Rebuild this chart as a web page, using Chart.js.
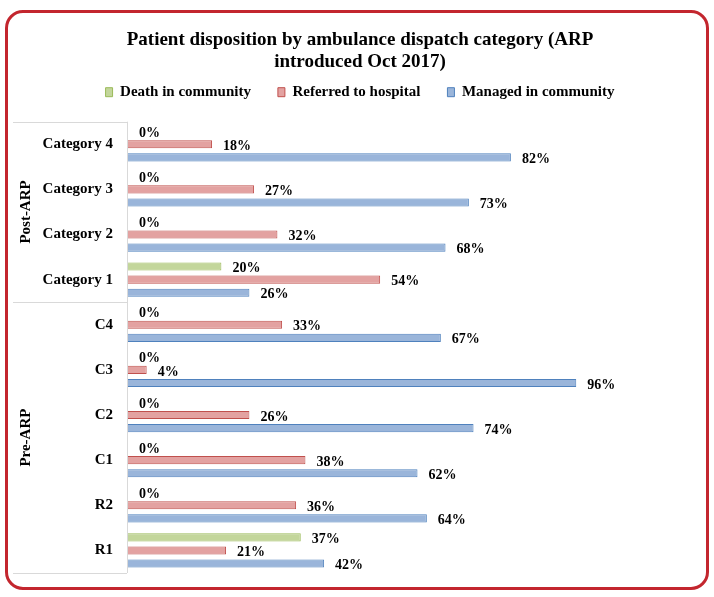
<!DOCTYPE html>
<html>
<head>
<meta charset="utf-8">
<script src="https://cdn.jsdelivr.net/npm/chart.js@4.4.1/dist/chart.umd.min.js"></script>
<style>
    html, body { margin: 0; padding: 0; background: #fff; }
    #wrap { position: relative; width: 714px; height: 597px; }
    #frame {
        position: absolute; left: 5px; top: 10px; width: 698px; height: 574px;
        border: 3px solid #c3262e; border-radius: 18px; pointer-events: none;
    }
    canvas { position: absolute; left: 0; top: 0; }
</style>
</head>
<body>
<div id="wrap">
    <canvas id="chart" width="714" height="597"></canvas>
    <div id="frame"></div>
</div>
<script>
const categories = ['Category 4', 'Category 3', 'Category 2', 'Category 1', 'C4', 'C3', 'C2', 'C1', 'R2', 'R1'];
const groups = [
    { label: 'Post-ARP', from: 0, to: 3 },
    { label: 'Pre-ARP', from: 4, to: 9 }
];
const deathInCommunity = [0, 0, 0, 20, 0, 0, 0, 0, 0, 37];
const referredToHospital = [18, 27, 32, 54, 33, 4, 26, 38, 36, 21];
const managedInCommunity = [82, 73, 68, 26, 67, 96, 74, 62, 64, 42];

const serif = "'Liberation Serif', 'DejaVu Serif', serif";

// value labels to the right of each bar
const barLabels = {
    id: 'barLabels',
    afterDatasetsDraw(chart) {
        const ctx = chart.ctx;
        ctx.save();
        ctx.font = 'bold 14px ' + serif;
        ctx.fillStyle = '#000';
        ctx.textAlign = 'left';
        ctx.textBaseline = 'middle';
        chart.data.datasets.forEach((ds, i) => {
            chart.getDatasetMeta(i).data.forEach((bar, j) => {
                ctx.fillText(ds.data[j] + '%', bar.x + 11, bar.y + 2);
            });
        });
        ctx.restore();
    }
};

// multi-level category boxes: group labels and divider lines
const groupAxis = {
    id: 'groupAxis',
    afterDraw(chart) {
        const ctx = chart.ctx;
        const y = chart.scales.y;
        const half = (y.getPixelForValue(1) - y.getPixelForValue(0)) / 2;
        const left = 13;
        const right = chart.chartArea.left - 1;
        ctx.save();
        ctx.strokeStyle = '#d9d9d9';
        ctx.lineWidth = 1;
        ctx.beginPath();
        ctx.moveTo(right + 0.5, y.getPixelForValue(0) - half);
        ctx.lineTo(right + 0.5, y.getPixelForValue(categories.length - 1) + half);
        groups.forEach(g => {
            const top = Math.round(y.getPixelForValue(g.from) - half) + 0.5;
            const bottom = Math.round(y.getPixelForValue(g.to) + half) + 0.5;
            ctx.moveTo(left, top);
            ctx.lineTo(right, top);
            ctx.moveTo(left, bottom);
            ctx.lineTo(right, bottom);
        });
        ctx.stroke();

        ctx.font = 'bold 15px ' + serif;
        ctx.fillStyle = '#000';
        ctx.textAlign = 'center';
        ctx.textBaseline = 'middle';
        groups.forEach(g => {
            const mid = (y.getPixelForValue(g.from) + y.getPixelForValue(g.to)) / 2;
            ctx.save();
            ctx.translate(26, mid);
            ctx.rotate(-Math.PI / 2);
            ctx.fillText(g.label, 0, 0);
            ctx.restore();
        });
        ctx.restore();
    }
};

new Chart(document.getElementById('chart'), {
    type: 'bar',
    data: {
        labels: categories,
        datasets: [
            {
                label: 'Death in community',
                data: deathInCommunity,
                backgroundColor: '#c3d69b',
                borderColor: '#9bbb59',
                borderWidth: 1
            },
            {
                label: 'Referred to hospital',
                data: referredToHospital,
                backgroundColor: '#e3a2a1',
                borderColor: '#c0504d',
                borderWidth: 1
            },
            {
                label: 'Managed in community',
                data: managedInCommunity,
                backgroundColor: '#9ab5da',
                borderColor: '#4f81bd',
                borderWidth: 1
            }
        ]
    },
    options: {
        indexAxis: 'y',
        responsive: false,
        animation: false,
        categoryPercentage: 0.87,
        barPercentage: 0.62,
        layout: { padding: { top: 20, right: 14, bottom: 24, left: 20 } },
        scales: {
            x: {
                position: 'top',
                min: 0,
                max: 122.5,
                grid: { display: false, drawTicks: false },
                border: { display: false },
                ticks: { display: false },
                afterFit(scale) { scale.height = 12; }
            },
            y: {
                grid: { display: false, drawTicks: false },
                border: { display: false },
                ticks: {
                    color: '#000',
                    padding: 15,
                    font: { family: serif, size: 15, weight: 'bold' }
                },
                afterFit(scale) { scale.width = 108; }
            }
        },
        plugins: {
            title: {
                display: true,
                text: ['Patient disposition by ambulance dispatch category (ARP', 'introduced Oct 2017)'],
                color: '#000',
                font: { family: serif, size: 19, weight: 'bold', lineHeight: 1.15 },
                padding: { top: 9, bottom: -15 }
            },
            legend: {
                labels: {
                    color: '#000',
                    boxWidth: 7,
                    boxHeight: 9,
                    padding: 27,
                    font: { family: serif, size: 15, weight: 'bold' }
                }
            },
            tooltip: { enabled: false }
        }
    },
    plugins: [barLabels, groupAxis]
});
</script>
</body>
</html>
